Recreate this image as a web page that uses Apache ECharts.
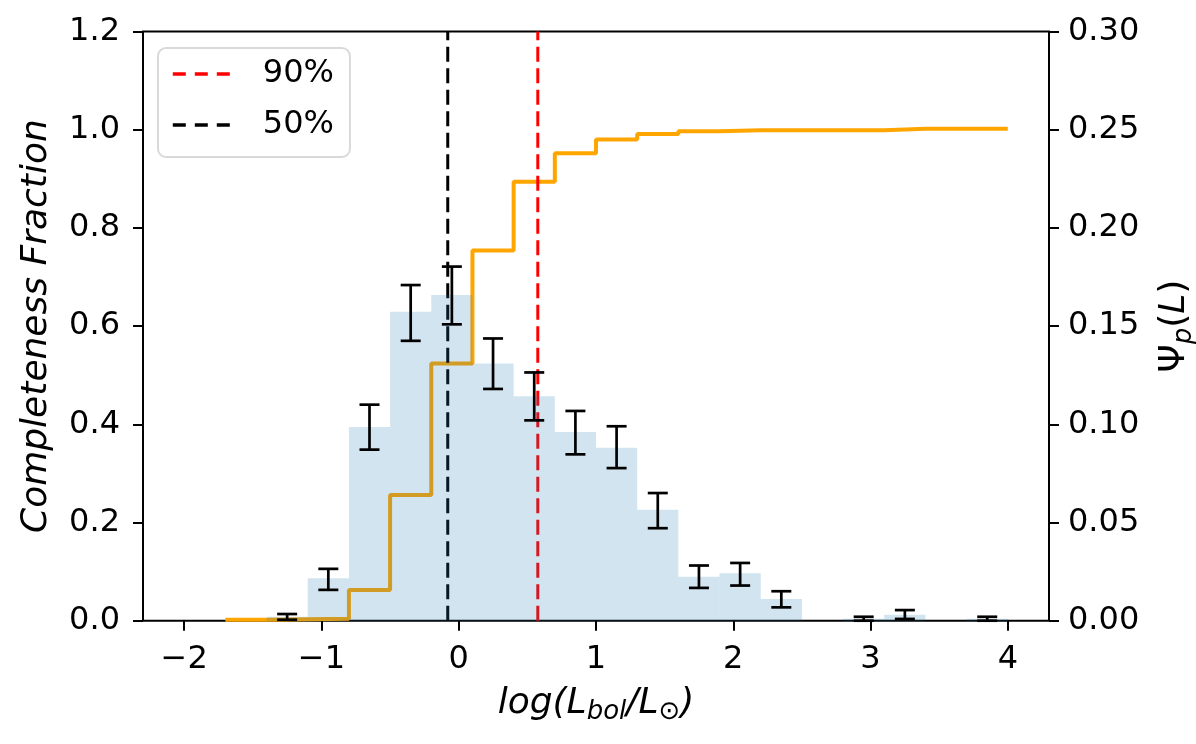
<!DOCTYPE html>
<html>
<head>
<meta charset="utf-8">
<script src="https://cdn.jsdelivr.net/npm/echarts@6/dist/echarts.min.js"></script>
<style>
  html, body { margin: 0; padding: 0; background: #fff; }
  #chart { width: 1196px; height: 744px; }
</style>
</head>
<body>
<div id="chart"></div>
<script>
// 直方图 (右轴 Psi_p)
var binEdges = [-1.4, -1.1, -0.8, -0.5, -0.2, 0.1, 0.4, 0.7, 1.0, 1.3, 1.6, 1.9, 2.2, 2.5, 2.8, 3.1, 3.4, 3.7, 4.0];
var psiValues = [0.002, 0.0216, 0.0986, 0.1573, 0.1658, 0.131, 0.1143, 0.0961, 0.0881, 0.0565, 0.0224, 0.0241, 0.0111, 0, 0.001, 0.003, 0, 0.001];

// 误差棒
var errCenters = [-1.25, -0.95, -0.65, -0.35, -0.05, 0.25, 0.55, 0.85, 1.15, 1.45, 1.75, 2.05, 2.35, 2.95, 3.25, 3.85];
var errLow  = [0.0005, 0.0157, 0.0871, 0.1425, 0.1509, 0.118, 0.102, 0.0847, 0.0777, 0.0471, 0.0167, 0.0179, 0.0068, 0.0, 0.0009, 0.0];
var errHigh = [0.0034, 0.0264, 0.110, 0.1709, 0.1803, 0.1437, 0.1264, 0.1068, 0.099, 0.065, 0.0281, 0.0294, 0.0150, 0.002, 0.0054, 0.002];

// 完备度阶梯线 (左轴)
var stepEdges = [-1.7, -1.4, -1.1, -0.8, -0.5, -0.2, 0.1, 0.4, 0.7, 1.0, 1.3, 1.6, 1.9, 2.2, 2.5, 2.8, 3.1, 3.4, 3.7, 4.0];
var completeness = [0.002, 0.003, 0.004, 0.0625, 0.256, 0.524, 0.754, 0.894, 0.952, 0.980, 0.991, 0.997, 0.999, 0.999, 0.999, 0.999, 1.002, 1.002, 1.002];

// 竖直虚线
var line90 = 0.576;
var line50 = -0.08;

var xTicks = [-2, -1, 0, 1, 2, 3, 4];

var FONT = 'DejaVu Sans';

var chart = echarts.init(document.getElementById('chart'));

var histData = psiValues.map(function (v, i) { return [binEdges[i], binEdges[i + 1], v]; });
var errData = errCenters.map(function (c, i) { return [c, errLow[i], errHigh[i]]; });
var stepData = stepEdges.map(function (e, i) {
  return [e, completeness[Math.min(i, completeness.length - 1)]];
});

var tickStyle = { show: true, length: 10, lineStyle: { color: '#000', width: 2 } };
var labelStyle = { color: '#000', fontFamily: FONT, fontSize: 32 };

var option = {
  backgroundColor: '#fff',
  animation: false,
  grid: {
    left: 143, right: 147, top: 31.5, bottom: 123.3,
    show: true, borderColor: '#000', borderWidth: 2,
    outerBoundsMode: 'none'
  },
  legend: {
    orient: 'vertical',
    left: 158, top: 48,
    data: ['90%', '50%'],
    selectedMode: false,
    itemWidth: 58, itemHeight: 14, itemGap: 15,
    padding: [8, 16, 14, 13],
    borderColor: '#d9d9d9', borderWidth: 2, borderRadius: 8,
    backgroundColor: 'rgba(255,255,255,0.8)',
    itemStyle: { color: 'rgba(0,0,0,0)', borderWidth: 0, opacity: 0 },
    lineStyle: { width: 3.6, type: [13, 9] },
    textStyle: { color: '#000', fontFamily: FONT, fontSize: 32, lineHeight: 36, padding: [0, 0, 0, 27] }
  },
  xAxis: {
    type: 'value',
    min: -2.3, max: 4.3,
    splitLine: { show: false },
    axisLine: { show: false, onZero: false },
    axisTick: { show: true, length: 10, lineStyle: { color: '#000', width: 2 }, customValues: xTicks },
    axisLabel: { color: '#000', fontFamily: FONT, fontSize: 32, margin: 23, customValues: xTicks,
      formatter: function (v) { return v < 0 ? '\u2212' + Math.abs(v) : String(v); } },
    name: '{i|log(L}{s|bol}{i|/L}{s|\u2299}{i|)}',
    nameLocation: 'middle',
    nameGap: 61,
    nameTextStyle: {
      rich: {
        i: { fontFamily: FONT, fontStyle: 'italic', fontSize: 36, color: '#000', lineHeight: 44 },
        s: { fontFamily: FONT, fontStyle: 'italic', fontSize: 26, color: '#000', lineHeight: 26, verticalAlign: 'bottom' }
      }
    }
  },
  yAxis: [
    {
      type: 'value',
      min: 0, max: 1.2, interval: 0.2,
      splitLine: { show: false },
      axisLine: { show: false, onZero: false },
      axisTick: tickStyle,
      axisLabel: Object.assign({ margin: 23, formatter: function (v) { return v.toFixed(1); } }, labelStyle),
      name: 'Completeness Fraction',
      nameLocation: 'middle',
      nameRotate: 90,
      nameGap: 88,
      nameTextStyle: { fontFamily: FONT, fontStyle: 'italic', fontSize: 36, color: '#000' }
    },
    {
      type: 'value',
      position: 'right',
      min: 0, max: 0.30, interval: 0.05,
      splitLine: { show: false },
      axisLine: { show: false, onZero: false },
      axisTick: tickStyle,
      axisLabel: Object.assign({ margin: 19, formatter: function (v) { return v.toFixed(2); } }, labelStyle),
      name: '{n|\u03a8}{s|p}{n|(}{i|L}{n|)}',
      nameLocation: 'middle',
      nameRotate: 90,
      nameGap: 104,
      nameTextStyle: {
        rich: {
          n: { fontFamily: FONT, fontSize: 36, color: '#000', lineHeight: 44 },
          i: { fontFamily: FONT, fontStyle: 'italic', fontSize: 36, color: '#000', lineHeight: 44 },
          s: { fontFamily: FONT, fontStyle: 'italic', fontSize: 26, color: '#000', lineHeight: 26, verticalAlign: 'bottom' }
        }
      }
    }
  ],
  series: [
    {
      name: 'completeness',
      type: 'line',
      step: 'end',
      yAxisIndex: 0,
      data: stepData,
      symbol: 'none',
      lineStyle: { color: '#ffa500', width: 4 },
      z: 2
    },
    {
      name: '90%',
      type: 'line',
      yAxisIndex: 0,
      data: [[line90, 0], [line90, 1.2]],
      symbol: 'none',
      itemStyle: { color: '#ff0000' },
      lineStyle: { color: '#ff0000', width: 3, type: [15, 6.5] },
      z: 2
    },
    {
      name: '50%',
      type: 'line',
      yAxisIndex: 0,
      data: [[line50, 0], [line50, 1.2]],
      symbol: 'none',
      itemStyle: { color: '#000' },
      lineStyle: { color: '#000', width: 3, type: [15, 6.5] },
      z: 2
    },
    {
      name: 'hist',
      type: 'custom',
      yAxisIndex: 1,
      data: histData,
      encode: { x: [0, 1], y: 2 },
      renderItem: function (params, api) {
        var p0 = api.coord([api.value(0), api.value(2)]);
        var p1 = api.coord([api.value(1), 0]);
        return {
          type: 'rect',
          shape: { x: p0[0], y: p0[1], width: p1[0] - p0[0], height: p1[1] - p0[1] },
          style: { fill: 'rgba(31,119,180,0.2)' }
        };
      },
      z: 3
    },
    {
      name: 'err',
      type: 'custom',
      yAxisIndex: 1,
      data: errData,
      encode: { x: 0, y: [1, 2] },
      renderItem: function (params, api) {
        var lo = api.coord([api.value(0), api.value(1)]);
        var hi = api.coord([api.value(0), api.value(2)]);
        var cap = 10;
        var st = { stroke: '#000', lineWidth: 2.7 };
        return {
          type: 'group',
          children: [
            { type: 'line', shape: { x1: lo[0], y1: lo[1], x2: hi[0], y2: hi[1] }, style: st },
            { type: 'line', shape: { x1: lo[0] - cap, y1: lo[1], x2: lo[0] + cap, y2: lo[1] }, style: st },
            { type: 'line', shape: { x1: hi[0] - cap, y1: hi[1], x2: hi[0] + cap, y2: hi[1] }, style: st }
          ]
        };
      },
      z: 5
    }
  ]
};

chart.setOption(option);
</script>
</body>
</html>
